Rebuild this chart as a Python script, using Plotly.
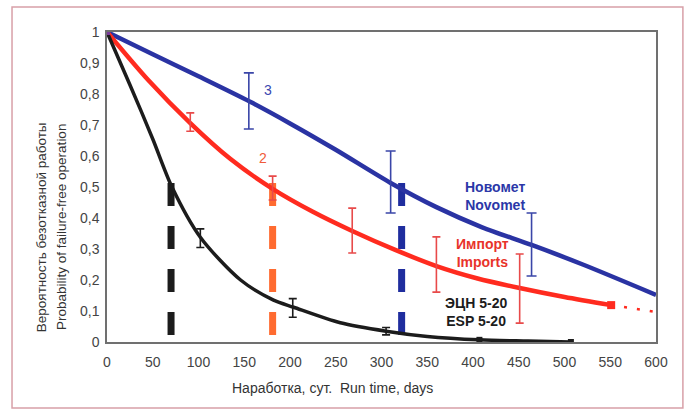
import plotly.graph_objects as go

# ---- data ----
novomet_x = [0, 50, 100, 157, 200, 250, 310, 360, 410, 464, 520, 600]
novomet_y = [1.0, 0.928, 0.857, 0.774, 0.705, 0.62, 0.513, 0.435, 0.37, 0.313, 0.25, 0.152]
novomet_err_x = [155, 310, 464]
novomet_err_y = [0.777, 0.513, 0.313]
novomet_err_hi = [0.091, 0.103, 0.103]
novomet_err_lo = [0.09, 0.097, 0.10]

imports_x = [0, 45, 91, 135, 181, 225, 268, 315, 360, 405, 451, 500, 551]
imports_y = [1.0, 0.845, 0.706, 0.59, 0.494, 0.42, 0.358, 0.297, 0.245, 0.205, 0.174, 0.145, 0.119]
imports_ext_x = [551, 600]
imports_ext_y = [0.119, 0.097]
imports_err_x = [91, 181, 268, 360, 451]
imports_err_y = [0.706, 0.494, 0.358, 0.245, 0.174]
imports_err_hi = [0.033, 0.041, 0.074, 0.094, 0.11]
imports_err_lo = [0.026, 0.036, 0.071, 0.084, 0.113]

esp_x = [0, 25, 50, 71, 102, 146, 182, 204, 255, 305, 350, 407, 460, 507]
esp_y = [1.0, 0.83, 0.655, 0.5, 0.338, 0.2, 0.135, 0.112, 0.062, 0.035, 0.018, 0.007, 0.003, 0.0]
esp_err_x = [102, 203, 305]
esp_err_y = [0.335, 0.11, 0.035]
esp_err = [0.03, 0.03, 0.012]

median_x = [70, 181, 322]          # vertical dashed lines at P = 0.5
median_top = 0.513

x_ticks = list(range(0, 601, 50))
y_ticks = [i / 10 for i in range(0, 11)]
y_tick_text = ["0", "0,1", "0,2", "0,3", "0,4", "0,5", "0,6", "0,7", "0,8", "0,9", "1"]

BLUE = "#2A33A3"
RED = "#FF2B1F"
BLACK = "#1C1C1C"
ORANGE = "#FF6B30"
DBLUE = "#1F2D9E"

fig = go.Figure()

# dashed vertical lines
for xv, col in zip(median_x, [BLACK, ORANGE, DBLUE]):
    fig.add_trace(go.Scatter(x=[xv, xv], y=[median_top, 0], mode="lines",
                             line=dict(color=col, width=7, dash="23px,20px"),
                             hoverinfo="skip", showlegend=False))

# curves
fig.add_trace(go.Scatter(x=novomet_x, y=novomet_y, mode="lines",
                         line=dict(color=BLUE, width=4.5, shape="spline", smoothing=0.8),
                         showlegend=False))
fig.add_trace(go.Scatter(x=imports_ext_x, y=imports_ext_y, mode="lines",
                         line=dict(color=RED, width=2.5, dash="3px,10px"),
                         showlegend=False))
fig.add_trace(go.Scatter(x=imports_x, y=imports_y, mode="lines",
                         line=dict(color=RED, width=4.5, shape="spline", smoothing=0.8),
                         showlegend=False))
fig.add_trace(go.Scatter(x=[imports_x[-1]], y=[imports_y[-1]], mode="markers",
                         marker=dict(color=RED, size=8, symbol="square"), showlegend=False))
fig.add_trace(go.Scatter(x=esp_x, y=esp_y, mode="lines",
                         line=dict(color=BLACK, width=3.5, shape="spline", smoothing=0.8),
                         showlegend=False))
fig.add_trace(go.Scatter(x=[esp_x[-3], esp_x[-1]], y=[esp_y[-3], esp_y[-1]], mode="markers",
                         marker=dict(color=BLACK, size=6, symbol="square"), showlegend=False))
fig.add_trace(go.Scatter(x=[0], y=[1], mode="markers",
                         marker=dict(color="#7A3A9A", size=6, symbol="square"), showlegend=False))

# error bars
fig.add_trace(go.Scatter(x=novomet_err_x, y=novomet_err_y, mode="markers",
                         marker=dict(size=1, color="rgba(0,0,0,0)"),
                         error_y=dict(type="data", symmetric=False, array=novomet_err_hi,
                                      arrayminus=novomet_err_lo, color="#3A46A8",
                                      thickness=1.6, width=5),
                         showlegend=False))
fig.add_trace(go.Scatter(x=imports_err_x, y=imports_err_y, mode="markers",
                         marker=dict(size=1, color="rgba(0,0,0,0)"),
                         error_y=dict(type="data", symmetric=False, array=imports_err_hi,
                                      arrayminus=imports_err_lo, color="#E84A4A",
                                      thickness=1.6, width=4),
                         showlegend=False))
fig.add_trace(go.Scatter(x=esp_err_x, y=esp_err_y, mode="markers",
                         marker=dict(size=1, color="rgba(0,0,0,0)"),
                         error_y=dict(type="data", array=esp_err, color=BLACK,
                                      thickness=1.6, width=4),
                         showlegend=False))

BOLD = "Liberation Sans, Arial, sans-serif"
NARROW = "Liberation Sans Narrow, Liberation Sans, Arial, sans-serif"

ann = [
    dict(x=176, y=0.813, text="3", font=dict(color="#3A47B0", size=14, family=BOLD)),
    dict(x=171, y=0.594, text="2", font=dict(color="#F05A3A", size=14, family=BOLD)),
    dict(x=424, y=0.471, text="<b>Новомет<br>Novomet</b>", font=dict(color="#2B37A8", size=14, family=BOLD)),
    dict(x=410, y=0.287, text="<b>Импорт<br>Imports</b>", font=dict(color="#E8332A", size=14, family=BOLD)),
    dict(x=403, y=0.097, text="<b>ЭЦН 5-20<br>ESP 5-20</b>", font=dict(color=BLACK, size=14, family=BOLD)),
]
annotations = []
for a in ann:
    annotations.append(dict(xref="x", yref="y", showarrow=False, align="center",
                            xanchor="center", yanchor="middle", **a))

annotations += [
    dict(xref="paper", yref="paper", x=0.41, y=-0.148, showarrow=False,
         xanchor="center", yanchor="middle",
         text="Наработка, сут.  Run time, days",
         font=dict(size=14, color="#333", family=NARROW)),
    dict(xref="paper", yref="paper", x=-0.118, y=0.371, showarrow=False, textangle=-90,
         xanchor="center", yanchor="middle",
         text="Вероятность безотказной работы",
         font=dict(size=13.5, color="#333", family=NARROW)),
    dict(xref="paper", yref="paper", x=-0.082, y=0.371, showarrow=False, textangle=-90,
         xanchor="center", yanchor="middle",
         text="Probability of failure-free operation",
         font=dict(size=13.5, color="#333", family=NARROW)),
]

fig.update_layout(
    width=690, height=418,
    margin=dict(l=107, r=34, t=32, b=76),
    paper_bgcolor="white", plot_bgcolor="white",
    annotations=annotations,
    shapes=[dict(type="rect", xref="paper", yref="paper",
                 x0=-0.173, x1=1.049, y0=-0.213, y1=1.081,
                 line=dict(color="#D8A0A8", width=1.5), layer="below")],
)
fig.update_xaxes(range=[0, 600], tickvals=x_ticks, showgrid=False, zeroline=False,
                 showline=True, linecolor="#707070", linewidth=1.5, mirror=True,
                 ticks="outside", ticklen=6, tickcolor="rgba(0,0,0,0)",
                 tickfont=dict(size=14, color="#444", family=NARROW))
fig.update_yaxes(range=[0, 1], tickvals=y_ticks, ticktext=y_tick_text, showgrid=False,
                 zeroline=False, showline=True, linecolor="#707070", linewidth=1.5, mirror=True,
                 ticks="outside", ticklen=3, tickcolor="rgba(0,0,0,0)",
                 tickfont=dict(size=14, color="#444", family=NARROW))

fig.write_html("out.html")
